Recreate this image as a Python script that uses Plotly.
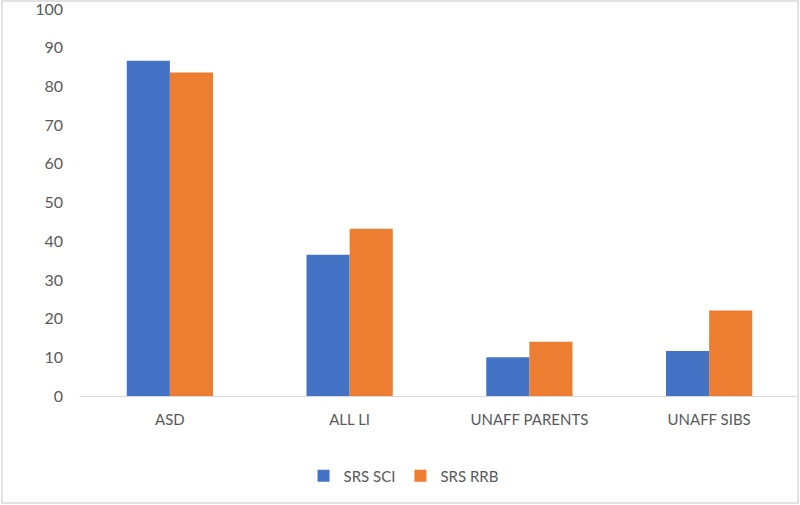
import plotly.graph_objects as go

categories = ["ASD", "ALL LI", "UNAFF PARENTS", "UNAFF SIBS"]
srs_sci = [86.6, 36.5, 10.0, 11.6]
srs_rrb = [83.6, 43.2, 14.0, 22.1]
y_ticks = [0, 10, 20, 30, 40, 50, 60, 70, 80, 90, 100]

font = dict(family="Lato, 'Open Sans', sans-serif", size=14, color="#595959")

fig = go.Figure()
fig.add_trace(go.Bar(name="SRS SCI", x=categories, y=srs_sci, marker=dict(color="#4472C4", line=dict(width=0))))
fig.add_trace(go.Bar(name="SRS RRB", x=categories, y=srs_rrb, marker=dict(color="#ED7D31", line=dict(width=0))))

fig.update_layout(
    width=800, height=505,
    margin=dict(l=80, r=1, t=9, b=109, autoexpand=False),
    paper_bgcolor="white", plot_bgcolor="white",
    barmode="group", bargap=0.52, bargroupgap=0,
    font=font,
    showlegend=True,
    legend=dict(orientation="h", x=0.45, xanchor="center", y=-0.207, yanchor="middle",
                font=dict(size=15, color="#595959"), itemwidth=30),
    xaxis=dict(showgrid=False, showline=True, linecolor="#D9D9D9", linewidth=1,
               ticks="", tickfont=dict(size=15), ticklabelstandoff=10, automargin=False),
    yaxis=dict(range=[0, 100], tickvals=y_ticks, showgrid=False, showline=False,
               zeroline=False, ticks="", ticklabelstandoff=16, tickfont=dict(size=16),
               automargin=False, ticklabeloverflow="allow"),
)
fig.add_shape(type="rect", xref="x domain", yref="y domain", x0=-78/719, x1=1 - 1/719,
              y0=-107/387, y1=1 + 8/387, line=dict(color="#D9D9D9", width=1.5))

fig.write_html("out.html", post_script="document.body.style.margin='0';",
               config={"displayModeBar": False})
